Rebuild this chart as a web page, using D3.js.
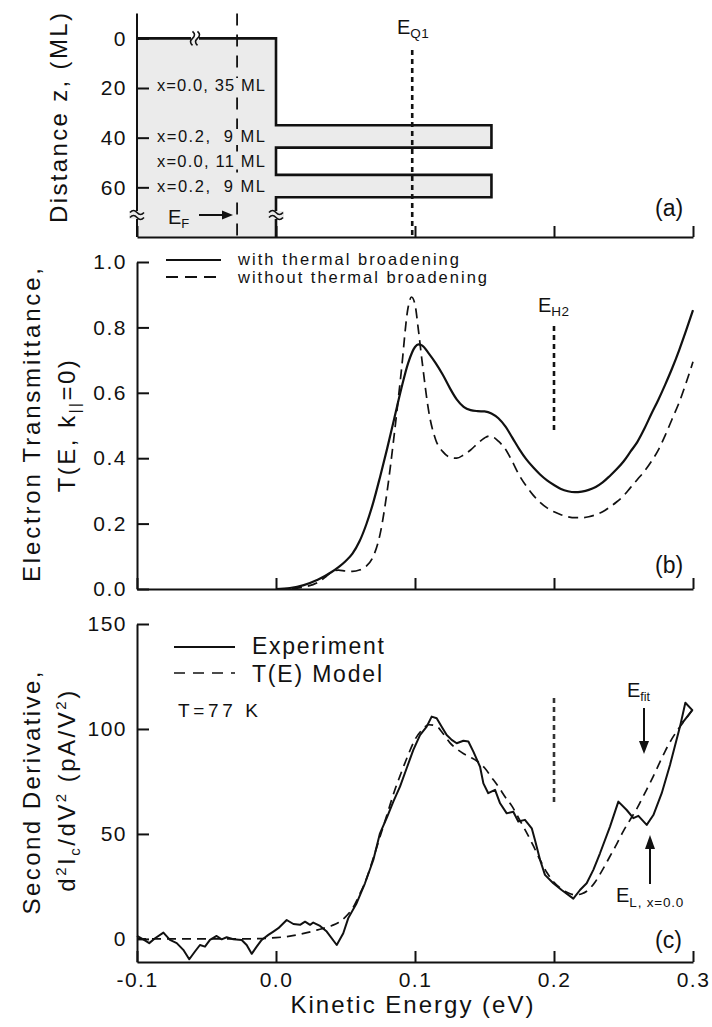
<!DOCTYPE html>
<html><head><meta charset="utf-8">
<script src="https://cdn.jsdelivr.net/npm/d3@7"></script>
<style>
html,body{margin:0;padding:0;background:#fff;}
svg{display:block;}
text{font-family:"Liberation Sans",Arial,Helvetica,sans-serif;fill:#111;white-space:pre;}
</style></head><body>
<svg id="chart" width="712" height="1027"></svg>
<script>
// ---------- data ----------
const energyTicks = [-0.1, 0.0, 0.1, 0.2, 0.3];
const energyTickLabels = ["-0.1", "0.0", "0.1", "0.2", "0.3"];
const depthTicks = [0, 20, 40, 60];
const transTicks = [0, 0.2, 0.4, 0.6, 0.8, 1.0];
const derivTicks = [0, 50, 100, 150];

// panel (a): layer structure
const layerX        = [0.0, 0.2, 0.0, 0.2, 0.0];
const layerStartML  = [0, 35, 44, 55, 64];
const layerEndML    = [35, 44, 55, 64, 80];
const layerBandEdge = [0.0, 0.155, 0.0, 0.155, 0.0];
const layerLabels   = ["x=0.0, 35 ML", "x=0.2,  9 ML", "x=0.0, 11 ML", "x=0.2,  9 ML"];
const fermiEnergy = -0.028;
const eQ1 = 0.098;
const eH2 = 0.2;

// panel (b): transmittance with thermal broadening
const transE = [0.0,0.01,0.02,0.03,0.04,0.045,0.05,0.055,0.06,0.065,0.07,0.075,0.08,0.085,0.09,0.095,0.1,0.1025,0.105,0.11,0.115,0.12,0.125,0.13,0.135,0.14,0.145,0.15,0.155,0.16,0.165,0.17,0.175,0.18,0.185,0.19,0.195,0.2,0.205,0.21,0.215,0.22,0.225,0.23,0.235,0.24,0.245,0.25,0.255,0.26,0.265,0.27,0.275,0.28,0.285,0.29,0.295,0.3];
const transWith = [0.0,0.003,0.012,0.028,0.052,0.067,0.085,0.108,0.145,0.198,0.265,0.345,0.43,0.52,0.61,0.69,0.74,0.748,0.745,0.72,0.69,0.655,0.615,0.58,0.557,0.547,0.544,0.543,0.537,0.522,0.497,0.463,0.428,0.397,0.372,0.35,0.332,0.318,0.306,0.299,0.296,0.298,0.303,0.312,0.326,0.345,0.366,0.39,0.42,0.45,0.49,0.535,0.578,0.625,0.675,0.73,0.79,0.853];
// panel (b): transmittance without thermal broadening
const transE2 = [0.0,0.01,0.02,0.03,0.035,0.04,0.045,0.05,0.055,0.06,0.065,0.07,0.075,0.08,0.085,0.09,0.095,0.0975,0.1,0.1025,0.105,0.11,0.115,0.12,0.125,0.13,0.135,0.14,0.145,0.15,0.1535,0.157,0.16,0.165,0.17,0.175,0.18,0.185,0.19,0.195,0.2,0.205,0.21,0.215,0.22,0.225,0.23,0.235,0.24,0.245,0.25,0.255,0.26,0.265,0.27,0.275,0.28,0.285,0.29,0.295,0.3];
const transWithout = [0,0.001,0.006,0.02,0.035,0.052,0.058,0.055,0.054,0.058,0.07,0.1,0.17,0.3,0.47,0.66,0.86,0.893,0.87,0.79,0.70,0.54,0.455,0.42,0.403,0.40,0.41,0.425,0.445,0.462,0.468,0.463,0.452,0.428,0.39,0.348,0.315,0.287,0.265,0.248,0.236,0.227,0.221,0.218,0.218,0.221,0.227,0.236,0.25,0.266,0.285,0.31,0.335,0.36,0.39,0.425,0.47,0.52,0.57,0.63,0.695];

// panel (c): experiment
const expE = [-0.1,-0.0955,-0.0912,-0.087,-0.081,-0.0763,-0.0714,-0.0667,-0.0624,-0.0583,-0.0547,-0.0511,-0.0475,-0.0427,-0.0391,-0.0355,-0.0307,-0.0247,-0.0211,-0.0175,-0.0139,-0.0103,-0.0055,-0.0019,0.0017,0.0077,0.0125,0.0173,0.0209,0.0245,0.0268,0.0317,0.0365,0.0437,0.0484,0.052,0.058,0.064,0.070,0.0748,0.0796,0.0844,0.0892,0.094,0.0988,0.1036,0.1084,0.112,0.1156,0.1192,0.1228,0.1264,0.13,0.1348,0.1384,0.142,0.1468,0.1492,0.1527,0.1576,0.1612,0.166,0.1707,0.1743,0.1791,0.184,0.1863,0.19,0.1935,0.1995,0.2055,0.2103,0.2139,0.2187,0.2235,0.2283,0.2331,0.2403,0.2463,0.2523,0.2571,0.2607,0.2667,0.2715,0.2775,0.2835,0.2906,0.2945,0.2995,0.2925];
const expV = [1.4,-0.2,-2.0,0.3,3.0,-0.5,-2.0,-5.2,-9.7,-6.0,-2.9,-3.7,-0.5,1.4,-0.2,0.8,-0.2,-0.5,-2.9,-7.1,-3.7,-0.5,1.9,3.5,5.1,9.0,7.1,6.7,8.2,6.7,7.8,6.2,3.5,-2.9,2.7,9.9,17,26.5,37.6,50.3,57.5,65.4,72.5,81.3,90,97.1,101.1,105.9,105.1,101.1,97.1,94.8,93.2,94.4,94,89.2,82,74.1,69.4,71,64.6,59.8,60.6,55.9,56.7,52.7,47.1,37.6,30.5,26.5,23.3,21,19.2,23.3,26.5,32.9,40.8,53.5,65.4,61.4,57.5,58.6,54.3,59,69.4,83,101,112.5,109,103];
// panel (c): T(E) model
const modelE = [-0.1,-0.08,-0.06,-0.04,-0.02,-0.01,0.0,0.01,0.02,0.03,0.04,0.045,0.05,0.055,0.06,0.065,0.07,0.075,0.08,0.085,0.09,0.095,0.1,0.105,0.11,0.115,0.12,0.125,0.13,0.135,0.14,0.145,0.15,0.155,0.16,0.165,0.17,0.175,0.18,0.185,0.19,0.195,0.2,0.205,0.21,0.215,0.22,0.225,0.23,0.235,0.24,0.245,0.25,0.255,0.26,0.265,0.27,0.275,0.28,0.285,0.29,0.295,0.2995];
const modelV = [0,0,0,0,0,0.2,0.6,1.3,2.6,4.3,6.3,7.8,10.5,14.5,21,28.5,38.5,49,59.5,70,79,87.5,95,99.5,102,101.5,98,93.5,90.5,88.2,86.5,84.5,81.5,77,72.5,67.5,63,57,51,44.5,37.6,31.5,27,24,22,21,21.5,23.5,27.5,33,39,45,51.5,57,62.5,69,75.5,82.5,89.5,95.5,100.5,105,109];

// ---------- scales ----------
const svg = d3.select("#chart");
const INK = "#111";
const GRAY = "#ebebeb";
const x  = d3.scaleLinear().domain([-0.1, 0.3]).range([137, 693]);
const yA = d3.scaleLinear().domain([-10, 80]).range([13.5, 237]);
const yB = d3.scaleLinear().domain([0, 1]).range([589, 262]);
const yC = d3.scaleLinear().domain([-11, 150]).range([962, 624]);

function styleAxis(g, fs) {
  g.selectAll(".domain").attr("stroke", INK).attr("stroke-width", 2);
  g.selectAll(".tick line").attr("stroke", INK).attr("stroke-width", 2);
  g.selectAll(".tick text").attr("font-family", '"Liberation Sans",Arial,sans-serif')
    .attr("font-size", fs).attr("fill", INK).style("letter-spacing", "1.5px");
  g.attr("font-family", null).attr("font-size", null);
}

// ---------- panel (a) ----------
const pA = svg.append("g");
const prof = [[-0.1, 0]];
layerBandEdge.forEach((e, i) => { prof.push([e, layerStartML[i]]); prof.push([e, layerEndML[i]]); });
const lineA = d3.line().x(d => x(d[0])).y(d => yA(d[1]));
pA.append("path").attr("d", lineA(prof.concat([[-0.1, 80]]))).attr("fill", GRAY).attr("stroke", "none");
pA.append("path").attr("d", lineA(prof)).attr("fill", "none").attr("stroke", INK).attr("stroke-width", 2.6);

// E_F dashed line
pA.append("line").attr("x1", x(fermiEnergy)).attr("x2", x(fermiEnergy)).attr("y1", yA(-10)).attr("y2", yA(80))
  .attr("stroke", INK).attr("stroke-width", 1.8).attr("stroke-dasharray", "12,9");
// E_Q1 dotted line
pA.append("line").attr("x1", x(eQ1)).attr("x2", x(eQ1)).attr("y1", 50).attr("y2", yA(80))
  .attr("stroke", INK).attr("stroke-width", 2.6).attr("stroke-dasharray", "5,4");

const axA = pA.append("g").attr("transform", `translate(${x(-0.1)},0)`)
  .call(d3.axisLeft(yA).tickValues(depthTicks).tickSizeInner(-12).tickSizeOuter(0).tickPadding(10));
styleAxis(axA, 21);
axA.select(".domain").attr("d", `M0,${yA(-10)}V${yA(80)}`);
const axAb = pA.append("g").attr("transform", `translate(0,${yA(80)})`)
  .call(d3.axisBottom(x).tickValues(energyTicks).tickSizeInner(-11).tickSizeOuter(0).tickFormat(""));
styleAxis(axAb, 21);

// break marks
function breakV(px, py, bg) {
  pA.append("rect").attr("x", px - 8).attr("y", py - 4).attr("width", 16).attr("height", 8).attr("fill", bg);
  [-2.5, 2.5].forEach(o => pA.append("path")
    .attr("d", `M${px - 7},${py + o} q3.5,-4 7,0 t7,0`).attr("fill", "none").attr("stroke", INK).attr("stroke-width", 1.6));
}
function breakH(px, py) {
  pA.append("rect").attr("x", px - 4).attr("y", py - 8).attr("width", 8).attr("height", 16).attr("fill", GRAY);
  pA.append("rect").attr("x", px - 4).attr("y", py - 8).attr("width", 8).attr("height", 7).attr("fill", "#fff");
  [-2.5, 2.5].forEach(o => pA.append("path")
    .attr("d", `M${px + o},${py - 7} q4,3.5 0,7 t0,7`).attr("fill", "none").attr("stroke", INK).attr("stroke-width", 1.6));
}
breakH(195, yA(0));
breakV(x(-0.1), 215, GRAY);
breakV(x(0.0), 215, GRAY);

// layer labels (with gray backing that hides the E_F line)
const labelBase = [91, 142, 166.5, 191.5];
layerLabels.forEach((t, i) => {
  pA.append("rect").attr("x", 155).attr("y", labelBase[i] - 13).attr("width", 115).attr("height", 16).attr("fill", GRAY);
  pA.append("text").attr("x", 157).attr("y", labelBase[i]).attr("font-size", 16.5)
    .attr("textLength", 108).attr("lengthAdjust", "spacing").text(t);
});
// E_F label and arrow
const ef = pA.append("text").attr("x", 168).attr("y", 224).attr("font-size", 20);
ef.append("tspan").text("E");
ef.append("tspan").attr("font-size", 13).attr("dy", 4).text("F");
pA.append("line").attr("x1", 199).attr("x2", 224).attr("y1", 215).attr("y2", 215).attr("stroke", INK).attr("stroke-width", 2);
pA.append("path").attr("d", "M222,210.5L233,215L222,219.5Z").attr("fill", INK);
// E_Q1 label
const eq = pA.append("text").attr("x", 397).attr("y", 34).attr("font-size", 20);
eq.append("tspan").text("E");
eq.append("tspan").attr("font-size", 13.5).attr("dy", 4).style("letter-spacing", "0.5px").text("Q1");
pA.append("text").attr("x", 655).attr("y", 216).attr("font-size", 23).text("(a)");
pA.append("text").attr("transform", "translate(67,118) rotate(-90)").attr("text-anchor", "middle")
  .attr("font-size", 24).attr("textLength", 210).attr("lengthAdjust", "spacing").text("Distance z, (ML)");

// ---------- panel (b) ----------
const pB = svg.append("g");
const lineB = d3.line().curve(d3.curveMonotoneX).x(d => x(d[0])).y(d => yB(d[1]));
pB.append("path").attr("d", lineB(transE2.map((e, i) => [e, transWithout[i]])))
  .attr("fill", "none").attr("stroke", INK).attr("stroke-width", 1.7).attr("stroke-dasharray", "10,6");
pB.append("path").attr("d", lineB(transE.map((e, i) => [e, transWith[i]])))
  .attr("fill", "none").attr("stroke", INK).attr("stroke-width", 2.2);
pB.append("line").attr("x1", x(eH2)).attr("x2", x(eH2)).attr("y1", 326).attr("y2", 432)
  .attr("stroke", INK).attr("stroke-width", 2.6).attr("stroke-dasharray", "5,4");
const axB = pB.append("g").attr("transform", `translate(${x(-0.1)},0)`)
  .call(d3.axisLeft(yB).tickValues(transTicks).tickFormat(d3.format(".1f")).tickSizeInner(-12).tickSizeOuter(0).tickPadding(10));
styleAxis(axB, 21);
const axBb = pB.append("g").attr("transform", `translate(0,${yB(0)})`)
  .call(d3.axisBottom(x).tickValues(energyTicks).tickSizeInner(-11).tickSizeOuter(0).tickFormat(""));
styleAxis(axBb, 21);
// legend
pB.append("line").attr("x1", 166).attr("x2", 221).attr("y1", 260).attr("y2", 260).attr("stroke", INK).attr("stroke-width", 2);
pB.append("line").attr("x1", 166).attr("x2", 221).attr("y1", 277).attr("y2", 277).attr("stroke", INK).attr("stroke-width", 1.8).attr("stroke-dasharray", "12,7");
pB.append("text").attr("x", 238).attr("y", 265).attr("font-size", 16.5).attr("textLength", 221).attr("lengthAdjust", "spacing").text("with thermal broadening");
pB.append("text").attr("x", 238).attr("y", 283).attr("font-size", 16.5).attr("textLength", 249).attr("lengthAdjust", "spacing").text("without thermal broadening");
const eh = pB.append("text").attr("x", 538).attr("y", 312).attr("font-size", 20);
eh.append("tspan").text("E");
eh.append("tspan").attr("font-size", 13.5).attr("dy", 4).style("letter-spacing", "0.5px").text("H2");
pB.append("text").attr("x", 655).attr("y", 573).attr("font-size", 23).text("(b)");
pB.append("text").attr("transform", "translate(40,425) rotate(-90)").attr("text-anchor", "middle")
  .attr("font-size", 24).attr("textLength", 314).attr("lengthAdjust", "spacing").text("Electron Transmittance,");
const tb = pB.append("text").attr("transform", "translate(75,425) rotate(-90)").attr("text-anchor", "middle")
  .attr("font-size", 24).style("letter-spacing", "2.5px");
tb.append("tspan").text("T(E, k");
tb.append("tspan").attr("font-size", 15).attr("dy", 5).text("||");
tb.append("tspan").attr("dy", -5).text("=0)");

// ---------- panel (c) ----------
const pC = svg.append("g");
pC.append("path").attr("d", d3.line().curve(d3.curveMonotoneX).x(d => x(d[0])).y(d => yC(d[1]))(modelE.map((e, i) => [e, modelV[i]])))
  .attr("fill", "none").attr("stroke", INK).attr("stroke-width", 1.7).attr("stroke-dasharray", "9,6");
pC.append("path").attr("d", d3.line().x(d => x(d[0])).y(d => yC(d[1]))(expE.map((e, i) => [e, expV[i]])))
  .attr("fill", "none").attr("stroke", INK).attr("stroke-width", 2).attr("stroke-linejoin", "round");
pC.append("line").attr("x1", x(eH2)).attr("x2", x(eH2)).attr("y1", 698).attr("y2", 802)
  .attr("stroke", "#333").attr("stroke-width", 2.6).attr("stroke-dasharray", "5,4");
const axC = pC.append("g").attr("transform", `translate(${x(-0.1)},0)`)
  .call(d3.axisLeft(yC).tickValues(derivTicks).tickSizeInner(-12).tickSizeOuter(0).tickPadding(10));
styleAxis(axC, 21);
const axCb = pC.append("g").attr("transform", `translate(0,${yC(-11)})`)
  .call(d3.axisBottom(x).tickValues(energyTicks).tickSizeInner(-11).tickSizeOuter(0).tickPadding(10)
    .tickFormat((d, i) => energyTickLabels[i]));
styleAxis(axCb, 21);
// legend
pC.append("line").attr("x1", 174).attr("x2", 235).attr("y1", 647).attr("y2", 647).attr("stroke", INK).attr("stroke-width", 2);
pC.append("line").attr("x1", 174).attr("x2", 235).attr("y1", 673).attr("y2", 673).attr("stroke", INK).attr("stroke-width", 1.7).attr("stroke-dasharray", "11,8");
pC.append("text").attr("x", 252).attr("y", 654).attr("font-size", 23).attr("textLength", 132).attr("lengthAdjust", "spacing").text("Experiment");
pC.append("text").attr("x", 252).attr("y", 682).attr("font-size", 23).attr("textLength", 130).attr("lengthAdjust", "spacing").text("T(E) Model");
pC.append("text").attr("x", 178).attr("y", 717).attr("font-size", 19).attr("textLength", 80).attr("lengthAdjust", "spacing").text("T=77 K");
// E_fit
const efit = pC.append("text").attr("x", 627).attr("y", 697).attr("font-size", 20);
efit.append("tspan").text("E");
efit.append("tspan").attr("font-size", 12.5).attr("dy", 4).text("fit");
pC.append("line").attr("x1", 644).attr("x2", 644).attr("y1", 708).attr("y2", 743).attr("stroke", INK).attr("stroke-width", 2);
pC.append("path").attr("d", "M639,741L649,741L644,754Z").attr("fill", INK);
// E_L
pC.append("line").attr("x1", 650).attr("x2", 650).attr("y1", 884).attr("y2", 846).attr("stroke", INK).attr("stroke-width", 2);
pC.append("path").attr("d", "M645,849L655,849L650,835Z").attr("fill", INK);
const el = pC.append("text").attr("x", 616).attr("y", 902).attr("font-size", 20);
el.append("tspan").text("E");
el.append("tspan").attr("font-size", 13.5).attr("dy", 5).style("letter-spacing", "0.8px").text("L, x=0.0");
pC.append("text").attr("x", 655).attr("y", 948).attr("font-size", 23).text("(c)");
pC.append("text").attr("transform", "translate(40,793) rotate(-90)").attr("text-anchor", "middle")
  .attr("font-size", 24).attr("textLength", 243).attr("lengthAdjust", "spacing").text("Second Derivative,");
const tc = pC.append("text").attr("transform", "translate(75,790) rotate(-90)").attr("text-anchor", "middle")
  .attr("font-size", 24).style("letter-spacing", "2.5px");
tc.append("tspan").text("d");
tc.append("tspan").attr("font-size", 15).attr("dy", -9).text("2");
tc.append("tspan").attr("dy", 9).text("I");
tc.append("tspan").attr("font-size", 15).attr("dy", 5).text("c");
tc.append("tspan").attr("dy", -5).text("/dV");
tc.append("tspan").attr("font-size", 15).attr("dy", -9).text("2");
tc.append("tspan").attr("dy", 9).text(" (pA/V");
tc.append("tspan").attr("font-size", 15).attr("dy", -9).text("2");
tc.append("tspan").attr("dy", 9).text(")");
// x-axis title
svg.append("text").attr("x", 412).attr("y", 1013).attr("text-anchor", "middle").attr("font-size", 24)
  .attr("textLength", 243).attr("lengthAdjust", "spacing").text("Kinetic Energy (eV)");
</script>
</body></html>
